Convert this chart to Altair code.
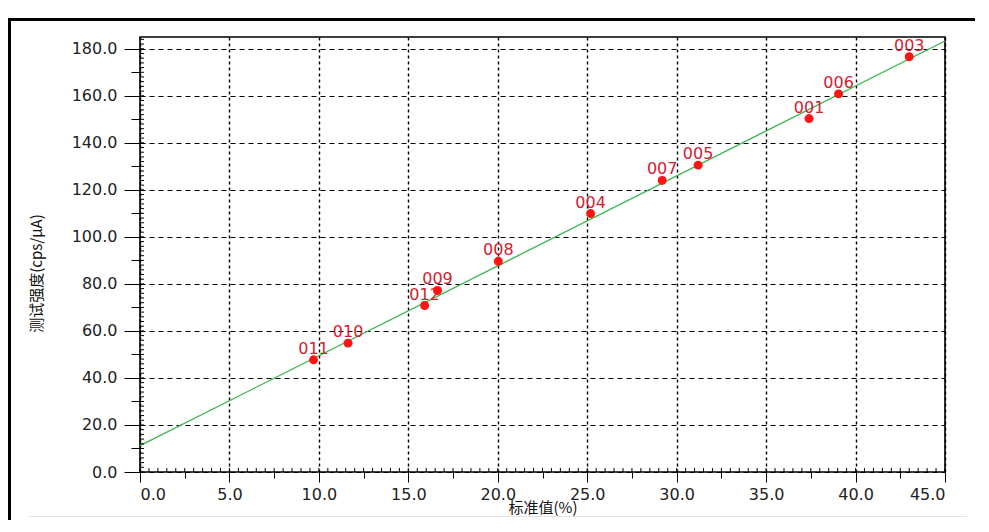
import altair as alt
import pandas as pd

# ---- data ----
names = ["011", "010", "012", "009", "008", "004", "007", "005", "001", "006", "003"]
std_vals = [9.70, 11.63, 15.91, 16.63, 20.03, 25.19, 29.19, 31.20, 37.40, 39.05, 43.00]
intensity = [47.7, 54.8, 70.8, 77.2, 89.6, 109.9, 124.0, 130.5, 150.3, 160.8, 176.6]
fit_x = [0.0, 45.0]
fit_y = [11.2, 183.3]

# ---- tick positions ----
x_major = [0, 5, 10, 15, 20, 25, 30, 35, 40, 45]
x_mid = [2.5, 7.5, 12.5, 17.5, 22.5, 27.5, 32.5, 37.5, 42.5]
x_minor = [i * 0.5 for i in range(91)]
y_major = [0, 20, 40, 60, 80, 100, 120, 140, 160, 180]
y_mid = [10, 30, 50, 70, 90, 110, 130, 150, 170]
y_minor = [float(v) for v in range(0, 186, 2)]

df = pd.DataFrame({"name": names, "x": std_vals, "y": intensity})
fit = pd.DataFrame({"x": fit_x, "y": fit_y})
xminor_df = pd.DataFrame({"v": x_minor})
yminor_df = pd.DataFrame({"v": y_minor})

W, H = 805, 435
xs = alt.Scale(domain=[0, 45], nice=False, zero=False)
ys = alt.Scale(domain=[0, 185], nice=False, zero=False)

LF = "DejaVu Sans"
TF = "Noto Sans CJK SC"

line = alt.Chart(fit).mark_line(color="#3cb44a", strokeWidth=1.3).encode(
    x=alt.X("x:Q", scale=xs, axis=alt.Axis(
        orient="bottom", values=x_major, format=".1f", tickSize=10, tickColor="black",
        labelPadding=4, labelFont=LF, labelFontSize=16, labelColor="#222",
        grid=True, gridDash=[3, 3], gridColor="black", gridWidth=1.4, domain=False,
        title="标准值(%)", titleFont=TF, titleFontSize=15, titleFontWeight="normal",
        titleColor="#111", titleY=35, titleBaseline="middle")),
    y=alt.Y("y:Q", scale=ys, axis=alt.Axis(
        orient="left", values=y_major, format=".1f", tickSize=16, tickColor="black",
        labelPadding=7, labelFont=LF, labelFontSize=16, labelColor="#222",
        grid=True, gridDash=[5, 4], gridColor="black", gridWidth=1.1, domain=False,
        title="测试强度(cps/μA)", titleFont=TF, titleFontSize=15, titleFontWeight="normal",
        titleColor="#111", titleX=-104, titleY=236, titleAngle=270,
        titleAlign="center", titleBaseline="middle")),
)

labels = alt.Chart(df).mark_text(dy=-11, font=LF, fontSize=16, color="#d42030").encode(
    x=alt.X("x:Q", scale=xs, axis=alt.Axis(
        orient="bottom", values=x_mid, tickSize=6, tickColor="black",
        labels=False, grid=False, domain=False, title="")),
    y=alt.Y("y:Q", scale=ys, axis=alt.Axis(
        orient="left", values=y_mid, tickSize=9, tickColor="black",
        labels=False, grid=False, domain=False, title="")),
    text="name:N",
)

points = alt.Chart(df).mark_circle(size=80, color="#ff1414", opacity=1).encode(
    x=alt.X("x:Q", scale=xs, axis=None),
    y=alt.Y("y:Q", scale=ys, axis=None),
)

# minor ticks pointing into the plot
xminor = alt.Chart(xminor_df).mark_rule(color="black", strokeWidth=1).encode(
    x=alt.X("v:Q", scale=xs, axis=None), y=alt.value(H - 4), y2=alt.value(H)
)
yminor = alt.Chart(yminor_df).mark_rule(color="black", strokeWidth=1).encode(
    y=alt.Y("v:Q", scale=ys, axis=None), x=alt.value(0), x2=alt.value(4)
)

frame = alt.Chart(df).mark_rect(filled=False, stroke="black", strokeWidth=3).encode(
    x=alt.value(-130.5), x2=alt.value(900), y=alt.value(-17.5), y2=alt.value(600)
)

sep = alt.Chart(df).mark_rule(color="#e4e4e4", strokeWidth=1).encode(
    x=alt.value(-111), x2=alt.value(827), y=alt.value(479.5)
)

chart = alt.layer(line, labels, points, xminor, yminor, frame, sep).resolve_axis(
    x="independent", y="independent"
).properties(
    width=W, height=H,
    autosize=alt.AutoSizeParams(type="none"),
    padding={"left": 132, "top": 29, "right": 30, "bottom": 48},
    background="white",
).configure_view(stroke="black", strokeWidth=1.6)

chart.save("out.html", embed_options={"renderer": "svg", "actions": False})
